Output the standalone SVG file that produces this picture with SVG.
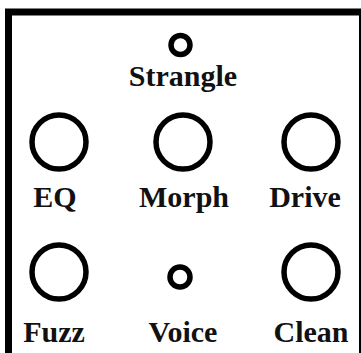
<svg xmlns="http://www.w3.org/2000/svg" width="361" height="353" viewBox="0 0 361 353">
  <style>
    .frame { fill: none; stroke: #000; stroke-width: 7; }
    .knob { fill: none; stroke: #000; stroke-width: 5.5; }
    .small { fill: none; stroke: #000; stroke-width: 5.5; }
    text { font-weight: bold; font-size: 30px; fill: #111; text-anchor: middle; }
  </style>
  <rect width="361" height="353" fill="#fff"/>
  <!-- panel outline, open at the bottom edge -->
  <rect class="frame" x="8.5" y="12" width="354" height="360"/>

  <g font-family="'Liberation Serif', 'DejaVu Serif', serif">
    <g id="strangle">
      <circle class="small" cx="180.5" cy="45" r="9.5"/>
      <text x="183" y="86">Strangle</text>
    </g>
    <g id="eq">
      <circle class="knob" cx="59" cy="142" r="27"/>
      <text x="55" y="207">EQ</text>
    </g>
    <g id="morph">
      <circle class="knob" cx="183" cy="142" r="27"/>
      <text x="184" y="207">Morph</text>
    </g>
    <g id="drive">
      <circle class="knob" cx="311" cy="142" r="27"/>
      <text x="305" y="207">Drive</text>
    </g>
    <g id="fuzz">
      <circle class="knob" cx="59" cy="272" r="27"/>
      <text x="54" y="342">Fuzz</text>
    </g>
    <g id="voice">
      <circle class="small" cx="180" cy="277" r="10"/>
      <text x="183" y="342">Voice</text>
    </g>
    <g id="clean">
      <circle class="knob" cx="311" cy="272" r="27"/>
      <text x="311" y="342">Clean</text>
    </g>
  </g>
</svg>
